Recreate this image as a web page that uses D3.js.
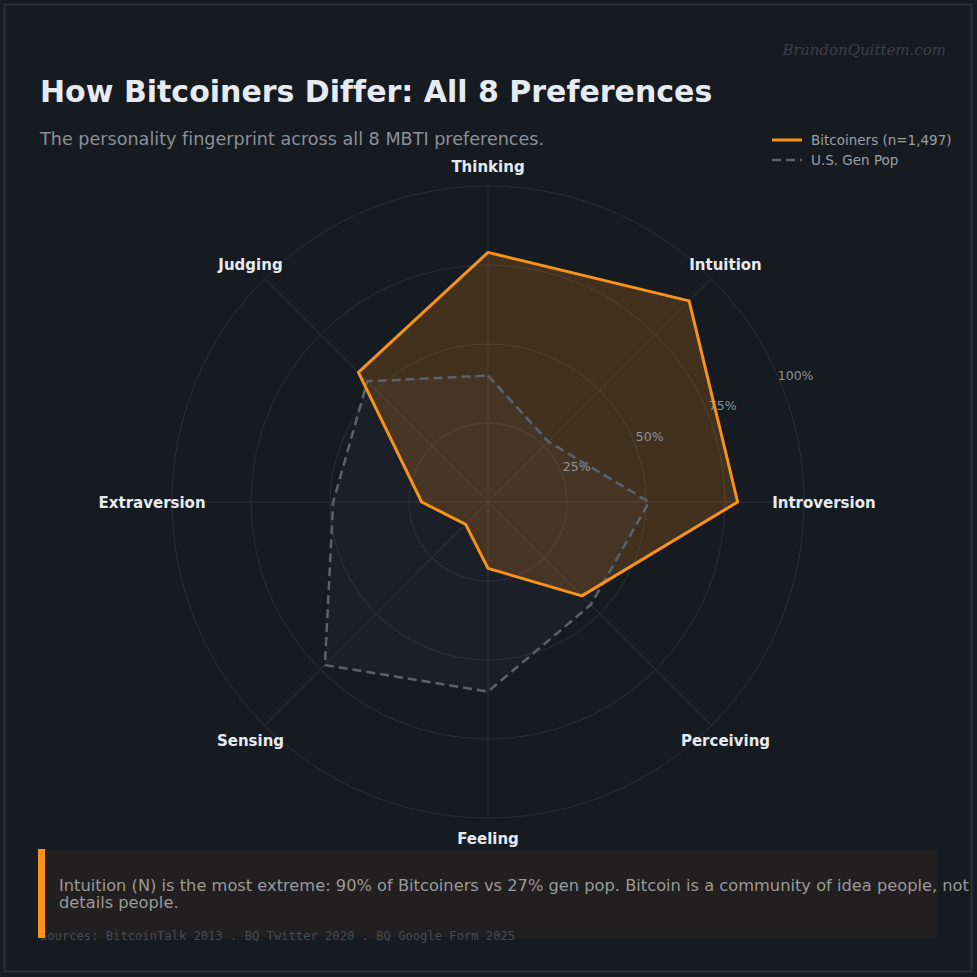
<!DOCTYPE html>
<html>
<head>
<meta charset="utf-8">
<script src="https://cdnjs.cloudflare.com/ajax/libs/d3/7.8.5/d3.min.js"></script>
<style>
  html, body { margin: 0; padding: 0; background: #161a21; }
  svg { display: block; font-family: "DejaVu Sans", sans-serif; font-variant-ligatures: none; }
</style>
</head>
<body>
<svg width="977" height="977"></svg>
<script>
// data (percent)
var prefs = ["Thinking", "Intuition", "Introversion", "Perceiving", "Feeling", "Sensing", "Extraversion", "Judging"];
var bitcoiners = [79, 90, 79, 42, 21, 10, 21, 58];
var genPop = [40, 27, 51, 46, 60, 73, 49, 54];
var ticks = [25, 50, 75, 100];

var svg = d3.select('svg');

svg.append('rect')
  .attr('x', 0).attr('y', 0).attr('width', 977).attr('height', 977)
  .attr('fill', '#161a21');

// outer frame
svg.append('rect')
  .attr('x', 4.5).attr('y', 4.5).attr('width', 967).attr('height', 967)
  .attr('fill', 'none')
  .attr('stroke', '#2b3038')
  .attr('stroke-width', 2);

var cx = 488, cy = 502;
var scaleR = d3.scaleLinear().domain([0, 100]).range([0, 316]);
var scaleA = d3.scaleLinear().domain([0, prefs.length]).range([0, 2 * Math.PI]);

var g = svg.append('g')
  .attr('transform', 'translate(' + cx + ',' + cy + ')');

function px(i, v) { return scaleR(v) * Math.sin(scaleA(i)); }
function py(i, v) { return -scaleR(v) * Math.cos(scaleA(i)); }

// rings
g.selectAll('.ring')
  .data(ticks)
  .enter()
  .append('circle')
  .attr('class', 'ring')
  .attr('r', function(d){ return scaleR(d); })
  .attr('fill', 'none')
  .attr('stroke', '#2a2f38')
  .attr('stroke-width', 1);

// spokes
g.selectAll('.spoke')
  .data(prefs)
  .enter()
  .append('line')
  .attr('class', 'spoke')
  .attr('x1', 0).attr('y1', 0)
  .attr('x2', function(d, i){ return px(i, 100); })
  .attr('y2', function(d, i){ return py(i, 100); })
  .attr('stroke', '#2a2f38')
  .attr('stroke-width', 1);

var radar = d3.lineRadial()
  .angle(function(d, i){ return scaleA(i); })
  .radius(function(d){ return scaleR(d); })
  .curve(d3.curveLinearClosed);

// gen pop
g.append('path')
  .datum(genPop)
  .attr('d', radar)
  .attr('fill', '#8a93a3')
  .attr('fill-opacity', 0.05)
  .attr('stroke', 'none');

// bitcoiners fill
g.append('path')
  .datum(bitcoiners)
  .attr('d', radar)
  .attr('fill', '#f7931a')
  .attr('fill-opacity', 0.2)
  .attr('stroke', 'none');

// radial tick labels
var tickAngle = 3 * Math.PI / 8;
g.selectAll('.tickLabel')
  .data(ticks)
  .enter()
  .append('text')
  .attr('class', 'tickLabel')
  .attr('x', function(d){ return (scaleR(d) + 17) * Math.sin(tickAngle); })
  .attr('y', function(d){ return -(scaleR(d) + 17) * Math.cos(tickAngle) + 1; })
  .attr('text-anchor', 'middle')
  .attr('dominant-baseline', 'central')
  .attr('font-size', 12.5)
  .attr('fill', '#8d939c')
  .text(function(d){ return d + '%'; });

g.append('path')
  .datum(genPop)
  .attr('d', radar)
  .attr('fill', 'none')
  .attr('stroke', '#5b626e')
  .attr('stroke-width', 2.5)
  .attr('stroke-dasharray', '9,5')
  .attr('stroke-linejoin', 'round');

g.append('path')
  .datum(bitcoiners)
  .attr('d', radar)
  .attr('fill', 'none')
  .attr('stroke', '#f7931a')
  .attr('stroke-width', 3)
  .attr('stroke-linejoin', 'round');

// axis labels
g.selectAll('.prefLabel')
  .data(prefs)
  .enter()
  .append('text')
  .attr('class', 'prefLabel')
  .attr('x', function(d, i){ return px(i, 106.3); })
  .attr('y', function(d, i){ return py(i, 106.3) + 1; })
  .attr('text-anchor', 'middle')
  .attr('dominant-baseline', 'central')
  .attr('font-size', 15)
  .attr('font-weight', 'bold')
  .attr('fill', '#e6ebf2')
  .text(function(d){ return d; });

// titles
svg.append('text')
  .attr('x', 40)
  .attr('y', 102)
  .attr('font-size', 30)
  .attr('font-weight', 'bold')
  .attr('fill', '#e6ebf2')
  .text('How Bitcoiners Differ: All 8 Preferences');

svg.append('text')
  .attr('x', 40)
  .attr('y', 145)
  .attr('font-size', 17.6)
  .attr('fill', '#8b9199')
  .text('The personality fingerprint across all 8 MBTI preferences.');

svg.append('text')
  .attr('x', 946)
  .attr('y', 55)
  .attr('text-anchor', 'end')
  .attr('font-family', '"DejaVu Serif", serif')
  .attr('font-style', 'italic')
  .attr('font-size', 15)
  .attr('fill', '#3b4049')
  .text('BrandonQuittem.com');

// legend
var legend = svg.append('g').attr('transform', 'translate(772,140)');
legend.append('line')
  .attr('x1', 0).attr('x2', 30).attr('y1', 0).attr('y2', 0)
  .attr('stroke', '#f7931a').attr('stroke-width', 3);
legend.append('text')
  .attr('x', 39).attr('y', 0)
  .attr('dominant-baseline', 'central')
  .attr('font-size', 13.5)
  .attr('fill', '#9aa0a8')
  .text('Bitcoiners (n=1,497)');
legend.append('line')
  .attr('x1', 0).attr('x2', 30).attr('y1', 20).attr('y2', 20)
  .attr('stroke', '#5b626e').attr('stroke-width', 2.5)
  .attr('stroke-dasharray', '9,5');
legend.append('text')
  .attr('x', 39).attr('y', 20)
  .attr('dominant-baseline', 'central')
  .attr('font-size', 13.5)
  .attr('fill', '#9aa0a8')
  .text('U.S. Gen Pop');

// annotation box
svg.append('rect')
  .attr('x', 38).attr('y', 849).attr('width', 900).attr('height', 88)
  .attr('fill', '#211f1f');

svg.append('text')
  .attr('x', 40)
  .attr('y', 940)
  .attr('font-family', '"DejaVu Sans Mono", monospace')
  .attr('font-size', 12.15)
  .attr('fill', '#474c54')
  .text('Sources: BitcoinTalk 2013 . BQ Twitter 2020 . BQ Google Form 2025');

svg.append('rect')
  .attr('x', 38).attr('y', 849).attr('width', 7).attr('height', 89)
  .attr('fill', '#f7931a');

var note = svg.append('text')
  .attr('font-size', 16.25)
  .attr('fill', '#9a9a9a');
note.append('tspan').attr('x', 59).attr('y', 891)
  .text('Intuition (N) is the most extreme: 90% of Bitcoiners vs 27% gen pop. Bitcoin is a community of idea people, not');
note.append('tspan').attr('x', 59).attr('y', 908)
  .text('details people.');
</script>
</body>
</html>
